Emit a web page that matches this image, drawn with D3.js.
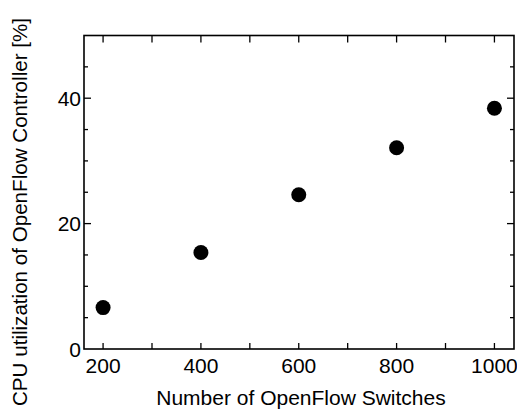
<!DOCTYPE html>
<html>
<head>
<meta charset="utf-8">
<script src="https://cdn.jsdelivr.net/npm/d3@7"></script>
<style>
  body { margin: 0; background: #fff; }
  text { font-family: "Liberation Sans", Arial, sans-serif; fill: #000; }
</style>
</head>
<body>
<svg id="chart" width="517" height="417"></svg>
<script>
// data
let switches = [200, 400, 600, 800, 1000];
let cpuUtil = [6.6, 15.4, 24.6, 32.1, 38.4];

let xTickLabels = [200, 400, 600, 800, 1000];
let xMinorTicks = [300, 500, 700, 900];
let yTickLabels = [0, 20, 40];
let yMinorTicks = [5, 10, 15, 25, 30, 35, 45];

let xTitle = "Number of OpenFlow Switches";
let yTitle = "CPU utilization of OpenFlow Controller [%]";

let svg = d3.select("#chart");
let plotLeft = 84, plotRight = 514, plotTop = 35.5, plotBottom = 349;
let fontSize = 21;

let xScale = d3.scaleLinear().domain([161, 1040]).range([plotLeft, plotRight]);
let yScale = d3.scaleLinear().domain([0, 50]).range([plotBottom, plotTop]);

let frame = svg.append("g");

// ticks on all four sides, pointing inward
function tickLines(vals, side, len) {
    let horiz = side === "bottom" || side === "top";
    let g = frame.append("g").attr("stroke", "#000").attr("stroke-width", 1.3);
    g.selectAll("line").data(vals).enter().append("line")
        .attr("x1", (d) => horiz ? xScale(d) : (side === "left" ? plotLeft : plotRight))
        .attr("x2", (d) => horiz ? xScale(d) : (side === "left" ? plotLeft + len : plotRight - len))
        .attr("y1", (d) => !horiz ? yScale(d) : (side === "bottom" ? plotBottom : plotTop))
        .attr("y2", (d) => !horiz ? yScale(d) : (side === "bottom" ? plotBottom - len : plotTop + len));
}
let xAll = xTickLabels.concat(xMinorTicks);
tickLines(xAll, "bottom", 6);
tickLines(xAll, "top", 7);
tickLines(yTickLabels.slice(1), "left", 7);
tickLines(yTickLabels.slice(1), "right", 7);
tickLines(yMinorTicks, "left", 4);
tickLines(yMinorTicks, "right", 4);

frame.append("rect")
    .attr("x", plotLeft).attr("y", plotTop)
    .attr("width", plotRight - plotLeft).attr("height", plotBottom - plotTop)
    .attr("fill", "none").attr("stroke", "#000").attr("stroke-width", 1.6);

// tick labels
svg.append("g").selectAll("text").data(xTickLabels).enter().append("text")
    .attr("x", (d) => xScale(d))
    .attr("y", plotBottom + 24)
    .attr("text-anchor", "middle")
    .attr("font-size", fontSize)
    .text((d) => d);

svg.append("g").selectAll("text").data(yTickLabels).enter().append("text")
    .attr("x", plotLeft - 3)
    .attr("y", (d) => yScale(d) + 7.5)
    .attr("text-anchor", "end")
    .attr("font-size", fontSize)
    .text((d) => d);

// axis titles
svg.append("text")
    .attr("x", 301)
    .attr("y", 405)
    .attr("text-anchor", "middle")
    .attr("font-size", fontSize)
    .text(xTitle);

svg.append("text")
    .attr("transform", "translate(27,212) rotate(-90)")
    .attr("text-anchor", "middle")
    .attr("font-size", 20.6)
    .text(yTitle);

// points
svg.append("g").selectAll("circle").data(switches).enter().append("circle")
    .attr("cx", (d) => xScale(d))
    .attr("cy", (d, i) => yScale(cpuUtil[i]))
    .attr("r", 7.5)
    .attr("fill", "#000");
</script>
</body>
</html>
